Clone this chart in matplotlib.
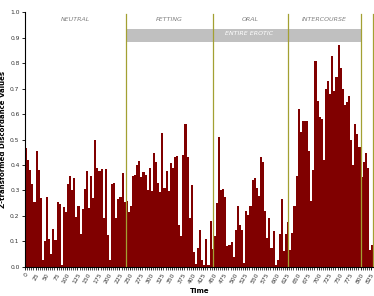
import matplotlib
matplotlib.use("Agg")
import matplotlib.pyplot as plt
import numpy as np

# z-transformed discordance per 5 s bin
neutral = [0.465, 0.42, 0.38, 0.325, 0.255, 0.455, 0.38, 0.27, 0.025, 0.10,
           0.275, 0.11, 0.05, 0.15, 0.105, 0.255, 0.245, 0.005, 0.235, 0.215,
           0.325, 0.355, 0.30, 0.35, 0.195, 0.24, 0.13, 0.225, 0.305, 0.375,
           0.23, 0.355, 0.27, 0.50, 0.39, 0.375, 0.385, 0.19, 0.385, 0.125,
           0.025, 0.325, 0.33, 0.19, 0.265, 0.275, 0.37, 0.255, 0.26]
petting = [0.215, 0.24, 0.357, 0.36, 0.40, 0.415, 0.353, 0.372, 0.36, 0.30,
           0.388, 0.297, 0.447, 0.41, 0.33, 0.294, 0.527, 0.31, 0.376, 0.297,
           0.408, 0.388, 0.431, 0.435, 0.164, 0.12, 0.44, 0.56, 0.43, 0.19,
           0.32, 0.058, 0.01, 0.073, 0.144, 0.026, 0.007, 0.109, 0.007, 0.18,
           0.07]
oral = [0.12, 0.25, 0.51, 0.30, 0.305, 0.274, 0.081, 0.085, 0.097, 0.038,
        0.144, 0.24, 0.164, 0.144, 0.014, 0.219, 0.203, 0.24, 0.34, 0.35,
        0.31, 0.278, 0.43, 0.41, 0.22, 0.113, 0.19, 0.073, 0.14, 0.007,
        0.026, 0.128, 0.266, 0.062, 0.128]
intercourse = [0.176, 0.066, 0.132, 0.24, 0.357, 0.62, 0.53, 0.573, 0.573, 0.573,
               0.455, 0.258, 0.38, 0.81, 0.65, 0.59, 0.58, 0.42, 0.70, 0.73,
               0.68, 0.83, 0.69, 0.745, 0.87, 0.78, 0.70, 0.636, 0.647, 0.67,
               0.50, 0.40, 0.56, 0.52, 0.47, 0.352]
after = [0.41, 0.447, 0.388, 0.066, 0.085]

values = neutral + petting + oral + intercourse + after
times = np.arange(len(values)) * 5

phase_names = ["NEUTRAL", "PETTING", "ORAL", "INTERCOURSE"]
phase_bounds = [0, 241, 448, 626, 802]
erotic_label = "ENTIRE EROTIC"

line_col = "#a3a032"

fig = plt.figure(figsize=(3.74, 2.96), dpi=100)
ax = fig.add_axes([0.067, 0.099, 0.933, 0.859])

ax.bar(times, values, width=5, align="edge", color="#800000", linewidth=0)

for b in phase_bounds[1:] + [829]:
    ax.axvline(b, ymin=0, ymax=0.993, color=line_col, lw=0.9)

for name, lo, hi in zip(phase_names, phase_bounds[:-1], phase_bounds[1:]):
    ax.text((lo + hi) / 2, 0.974, name, ha="center", va="center",
            fontsize=4.5, style="italic", color="#808080")

ax.fill_between([phase_bounds[1], phase_bounds[-1]], 0.884, 0.934,
                color="#c0c0c0", linewidth=0)
ax.text(535, 0.916, erotic_label, ha="center", va="center",
        fontsize=4.5, style="italic", color="white")

ax.set_xlim(0, 832)
ax.set_ylim(0, 1.0)
ax.set_yticks(np.arange(0, 1.01, 0.1))
ax.set_yticklabels([f"{v:.1f}" for v in np.arange(0, 1.01, 0.1)])
ax.set_xticks(np.arange(0, 826, 25))
ax.set_xticks(np.arange(0, 830, 5), minor=True)
ax.tick_params(axis="both", labelsize=4.3, length=2.5, width=0.6, pad=1.5,
               labelcolor="#333333")
ax.tick_params(axis="x", which="minor", length=2.5, width=0.5)
plt.setp(ax.get_xticklabels(), rotation=60, ha="right", rotation_mode="anchor")

for s in ["top", "right"]:
    ax.spines[s].set_visible(False)
ax.spines["left"].set_linewidth(0.8)
ax.spines["bottom"].set_linewidth(0.8)

ax.set_xlabel("Time", fontsize=5, fontweight="bold", labelpad=2)
ax.set_ylabel("Z-transformed Discordance Values", fontsize=5, fontweight="bold", labelpad=3)

fig.savefig("out.png", dpi=100)
